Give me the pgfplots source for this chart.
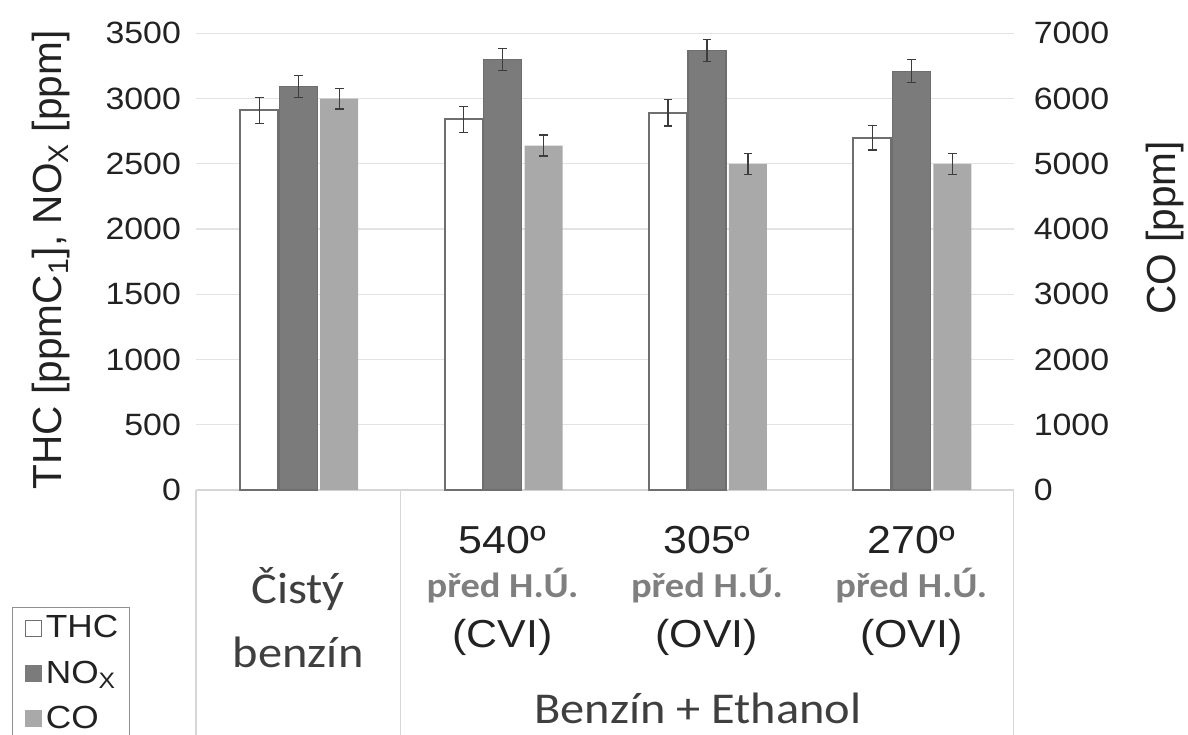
\documentclass[border=0pt]{standalone}
\usepackage{fontspec}
\setmainfont{Liberation Sans}[FakeStretch=1.1]
\newfontfamily\rotfont{Liberation Sans}
\newfontfamily\carlito{Carlito}[FakeStretch=1.1]
\usepackage{pgfplots}
\usepackage{pgfplotstable}
\pgfplotsset{compat=1.18}
\definecolor{gridc}{HTML}{E3E3E3}
\definecolor{tabline}{HTML}{D6D6D6}
\definecolor{thcb}{HTML}{6F6F6F}
\definecolor{noxc}{HTML}{7B7B7B}
\definecolor{noxb}{HTML}{6E6E6E}
\definecolor{coc}{HTML}{A9A9A9}
\definecolor{errc}{HTML}{3C3C3C}
\definecolor{txt}{HTML}{222222}
\definecolor{catc}{HTML}{3F3F3F}
\definecolor{predc}{HTML}{7F7F7F}
\definecolor{legc}{HTML}{909090}

% x = category index; bars are drawn side by side within each category
\pgfplotstableread{
x thc thcerr nox noxerr
0 2910 100 3090 85
1 2840 100 3300 85
2 2890 100 3370 85
3 2700 95 3210 87
}\leftdata
\pgfplotstableread{
x co coerr
0 6000 160
1 5280 160
2 5000 160
3 5000 160
}\codata

\pgfplotsset{
  common/.style={
    scale only axis, width=408.75pt, height=228.35pt,
    xmin=-0.5, xmax=3.5, xtick=\empty,
    major tick length=0pt,
    /pgf/number format/assume math mode=true,
    /pgf/number format/1000 sep={},
    clip=false,
  },
  errstyle/.style={
    error bars/.cd, y dir=both, y explicit,
    error bar style={line width=0.6pt, draw=errc},
    error mark options={rotate=90, mark size=2.2pt, line width=0.6pt, draw=errc},
    /pgfplots/.cd,
  },
}
\tikzset{
  catbig/.style={anchor=base, font=\carlito\fontsize{22}{26}\selectfont, text=catc},
  catnum/.style={anchor=base, font=\fontsize{19.5}{23}\selectfont, text=txt},
  catpred/.style={anchor=base, font=\carlito\bfseries\fontsize{17.5}{21}\selectfont, text=predc},
}

\begin{document}
\begin{tikzpicture}
\begin{axis}[common,
  ymin=0, ymax=3500, ytick={0,500,...,3500},
  ymajorgrids, grid style={draw=gridc, line width=0.6pt},
  axis x line*=bottom, axis y line*=left,
  axis line style={-},
  y axis line style={draw=none},
  x axis line style={draw=tabline, line width=0.6pt},
  yticklabel style={font=\fontsize{15.4}{18}\selectfont, text=txt, xshift=-4pt},
  ylabel={\rotfont THC [ppmC\textsubscript{1}], NO\textsubscript{X} [ppm]},
  every axis y label/.style={at={(axis description cs:-0.177,0.504)}, rotate=90, anchor=center, font=\rotfont\fontsize{20.3}{24}\selectfont, text=txt},
]
\addplot[ybar, bar width=19pt, bar shift=0pt, fill=white, draw=thcb, line width=1pt, errstyle]
  table[x expr=\thisrow{x}-0.1908, y=thc, y error=thcerr]{\leftdata};
\addplot[ybar, bar width=19pt, bar shift=0pt, fill=noxc, draw=noxb, line width=0.6pt, errstyle]
  table[x=x, y=nox, y error=noxerr]{\leftdata};

% category table lines
\draw[tabline, line width=0.6pt] (axis cs:-0.5,0) -- ++(0pt,-130pt);
\draw[tabline, line width=0.6pt] (axis cs:0.5,0) -- ++(0pt,-130pt);
\draw[tabline, line width=0.6pt] (axis cs:3.5,0) -- ++(0pt,-130pt);

% category labels
\node[catbig] at ([yshift=-56.5pt]axis cs:0,0) {Čistý};
\node[catbig] at ([yshift=-88.5pt]axis cs:0,0) {benzín};
\node[catnum] at ([yshift=-31.5pt]axis cs:1,0) {540º};
\node[catpred] at ([yshift=-53.5pt]axis cs:1,0) {před H.Ú.};
\node[catnum] at ([yshift=-78.5pt]axis cs:1,0) {(CVI)};
\node[catnum] at ([yshift=-31.5pt]axis cs:2,0) {305º};
\node[catpred] at ([yshift=-53.5pt]axis cs:2,0) {před H.Ú.};
\node[catnum] at ([yshift=-78.5pt]axis cs:2,0) {(OVI)};
\node[catnum] at ([yshift=-31.5pt]axis cs:3,0) {270º};
\node[catpred] at ([yshift=-53.5pt]axis cs:3,0) {před H.Ú.};
\node[catnum] at ([yshift=-78.5pt]axis cs:3,0) {(OVI)};
\node[catbig] at ([yshift=-116.5pt]axis cs:1.956,0) {Benzín + Ethanol};
\end{axis}

\begin{axis}[common,
  ymin=0, ymax=7000, ytick={0,1000,...,7000},
  axis y line*=right, axis x line=none,
  axis line style={-},
  y axis line style={draw=none},
  yticklabel style={font=\fontsize{15.4}{18}\selectfont, text=txt, xshift=6.6pt},
  ylabel={CO [ppm]},
  every axis y label/.style={at={(axis description cs:1.185,0.574)}, rotate=90, anchor=center, font=\rotfont\fontsize{20.3}{24}\selectfont, text=txt},
  legend cell align=left,
  legend style={at={(axis description cs:-0.225,-0.256)}, anchor=north west,
    draw=legc, line width=0.6pt, font=\fontsize{16}{19}\selectfont, text=txt,
    inner xsep=3.5pt, inner ysep=2pt, row sep=6pt},
]
\addlegendimage{legend image code/.code={\draw[draw=thcb, fill=white, line width=0.6pt] (2.5pt,-4pt) rectangle (10.5pt,4pt); \path (0pt,0pt);}}
\addlegendentry{THC}
\addlegendimage{legend image code/.code={\fill[noxc] (2.5pt,-4pt) rectangle (10.5pt,4pt); \path (0pt,0pt);}}
\addlegendentry{NO\textsubscript{X}}
\addlegendimage{legend image code/.code={\fill[coc] (2.5pt,-4pt) rectangle (10.5pt,4pt); \path (0pt,0pt);}}
\addlegendentry{CO}
\addplot[forget plot, ybar, bar width=19pt, bar shift=0pt, fill=coc, draw=none, errstyle]
  table[x expr=\thisrow{x}+0.2006, y=co, y error=coerr]{\codata};
\end{axis}
\pgfresetboundingbox
\path[use as bounding box] (-98pt,-122pt) rectangle (496pt,245pt);
\end{tikzpicture}
\end{document}
